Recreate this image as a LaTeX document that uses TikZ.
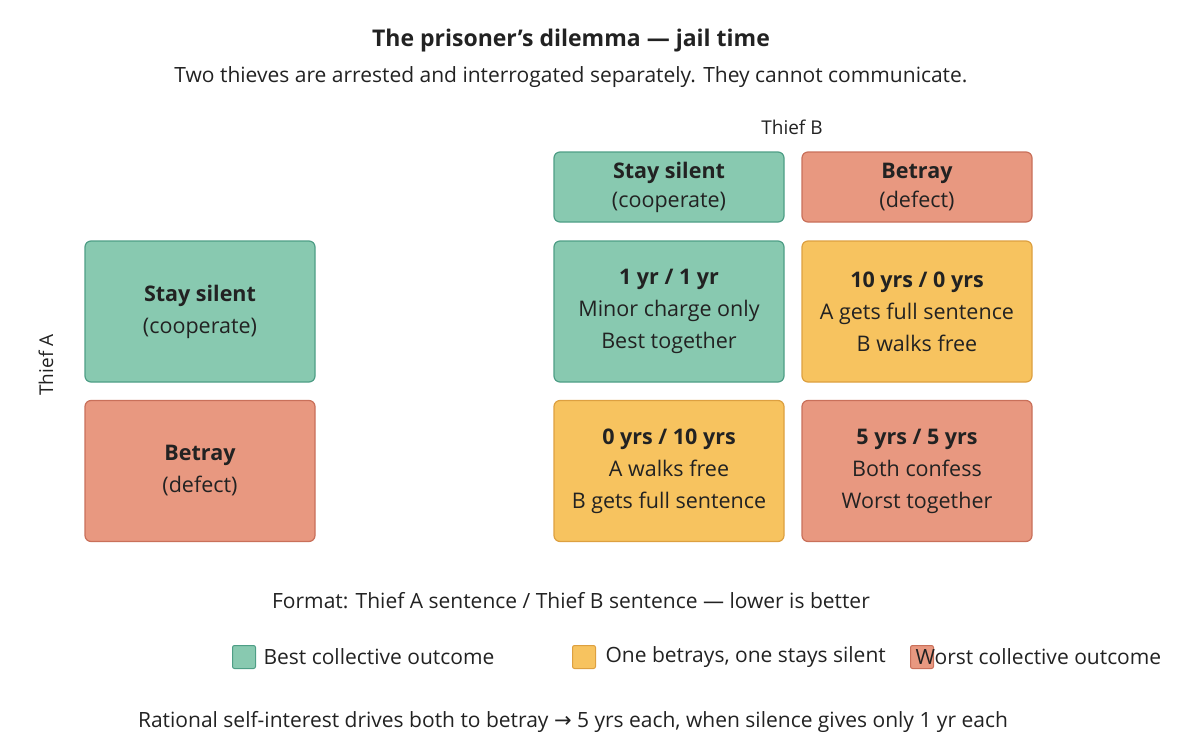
\documentclass[tikz,border=0pt]{standalone}
\usepackage{fontspec}
\setmainfont{Open Sans}
\newfontfamily\arrowfont{DejaVu Sans}
\definecolor{tealf}{HTML}{88C9B0}\definecolor{teald}{HTML}{4E9E86}
\definecolor{redf}{HTML}{E89880}\definecolor{redd}{HTML}{C9705A}
\definecolor{yelf}{HTML}{F7C35F}\definecolor{yeld}{HTML}{DDA040}
\definecolor{txt}{HTML}{222222}
\begin{document}
\begin{tikzpicture}[x=1pt,y=-1pt,text=txt,
 box/.style={draw,line width=1.2pt,rounded corners=6pt,minimum width=230pt,align=center,font=\fontsize{21.5}{32}\selectfont},
 cell/.style={box,minimum height=141pt},
 hdr/.style={box,minimum height=70pt,font=\fontsize{21.5}{29}\selectfont},
 tl/.style={fill=tealf,draw=teald},rd/.style={fill=redf,draw=redd},yl/.style={fill=yelf,draw=yeld},
 lab/.style={font=\fontsize{21}{24}\selectfont},
 sq/.style={draw,line width=1pt,rounded corners=2pt,minimum size=23pt,inner sep=0pt}]
\useasboundingbox (0,0) rectangle (1200,750);
\node[font=\fontsize{23}{26}\selectfont\bfseries] (title) at (571,41) {The prisoner’s dilemma — jail time};
\node[lab] (sub) at (571,77) {Two thieves are arrested and interrogated separately. They cannot communicate.};
\node[lab,font=\fontsize{19}{22}\selectfont] (tb) at (792,127) {Thief B};
\node[lab,font=\fontsize{19}{22}\selectfont,rotate=90] (ta) at (46,365) {Thief A};
\node[hdr,tl] (hs) at (669,187) {\textbf{Stay silent}\\(cooperate)};
\node[hdr,rd] (hb) at (917,187) {\textbf{Betray}\\(defect)};
\node[cell,tl] (as) at (200,311.5) {\textbf{Stay silent}\\(cooperate)};
\node[cell,rd] (ab) at (200,471) {\textbf{Betray}\\(defect)};
\node[cell,tl] (c11) at (669,311.5) {\textbf{1 yr / 1 yr}\\Minor charge only\\Best together};
\node[cell,yl] (c12) at (917,311.5) {\textbf{10 yrs / 0 yrs}\\A gets full sentence\\B walks free};
\node[cell,yl] (c21) at (669,471) {\textbf{0 yrs / 10 yrs}\\A walks free\\B gets full sentence};
\node[cell,rd] (c22) at (917,471) {\textbf{5 yrs / 5 yrs}\\Both confess\\Worst together};
\node[lab] (fmt) at (571,601) {Format: Thief A sentence / Thief B sentence — lower is better};
\node[sq,tl] (l1) at (244,657) {};
\node[lab,anchor=west] (t1) at (260,657) {Best collective outcome};
\node[sq,yl] (l2) at (584,657) {};
\node[lab,anchor=west] (t2) at (602,657) {One betrays, one stays silent};
\node[sq,rd] (l3) at (922,657) {};
\node[lab,anchor=west] (t3) at (912,657) {Worst collective outcome};
\node[lab] (bot) at (573,722) {Rational self-interest drives both to betray {\arrowfont →} 5 yrs each, when silence gives only 1 yr each};
\end{tikzpicture}
\end{document}
